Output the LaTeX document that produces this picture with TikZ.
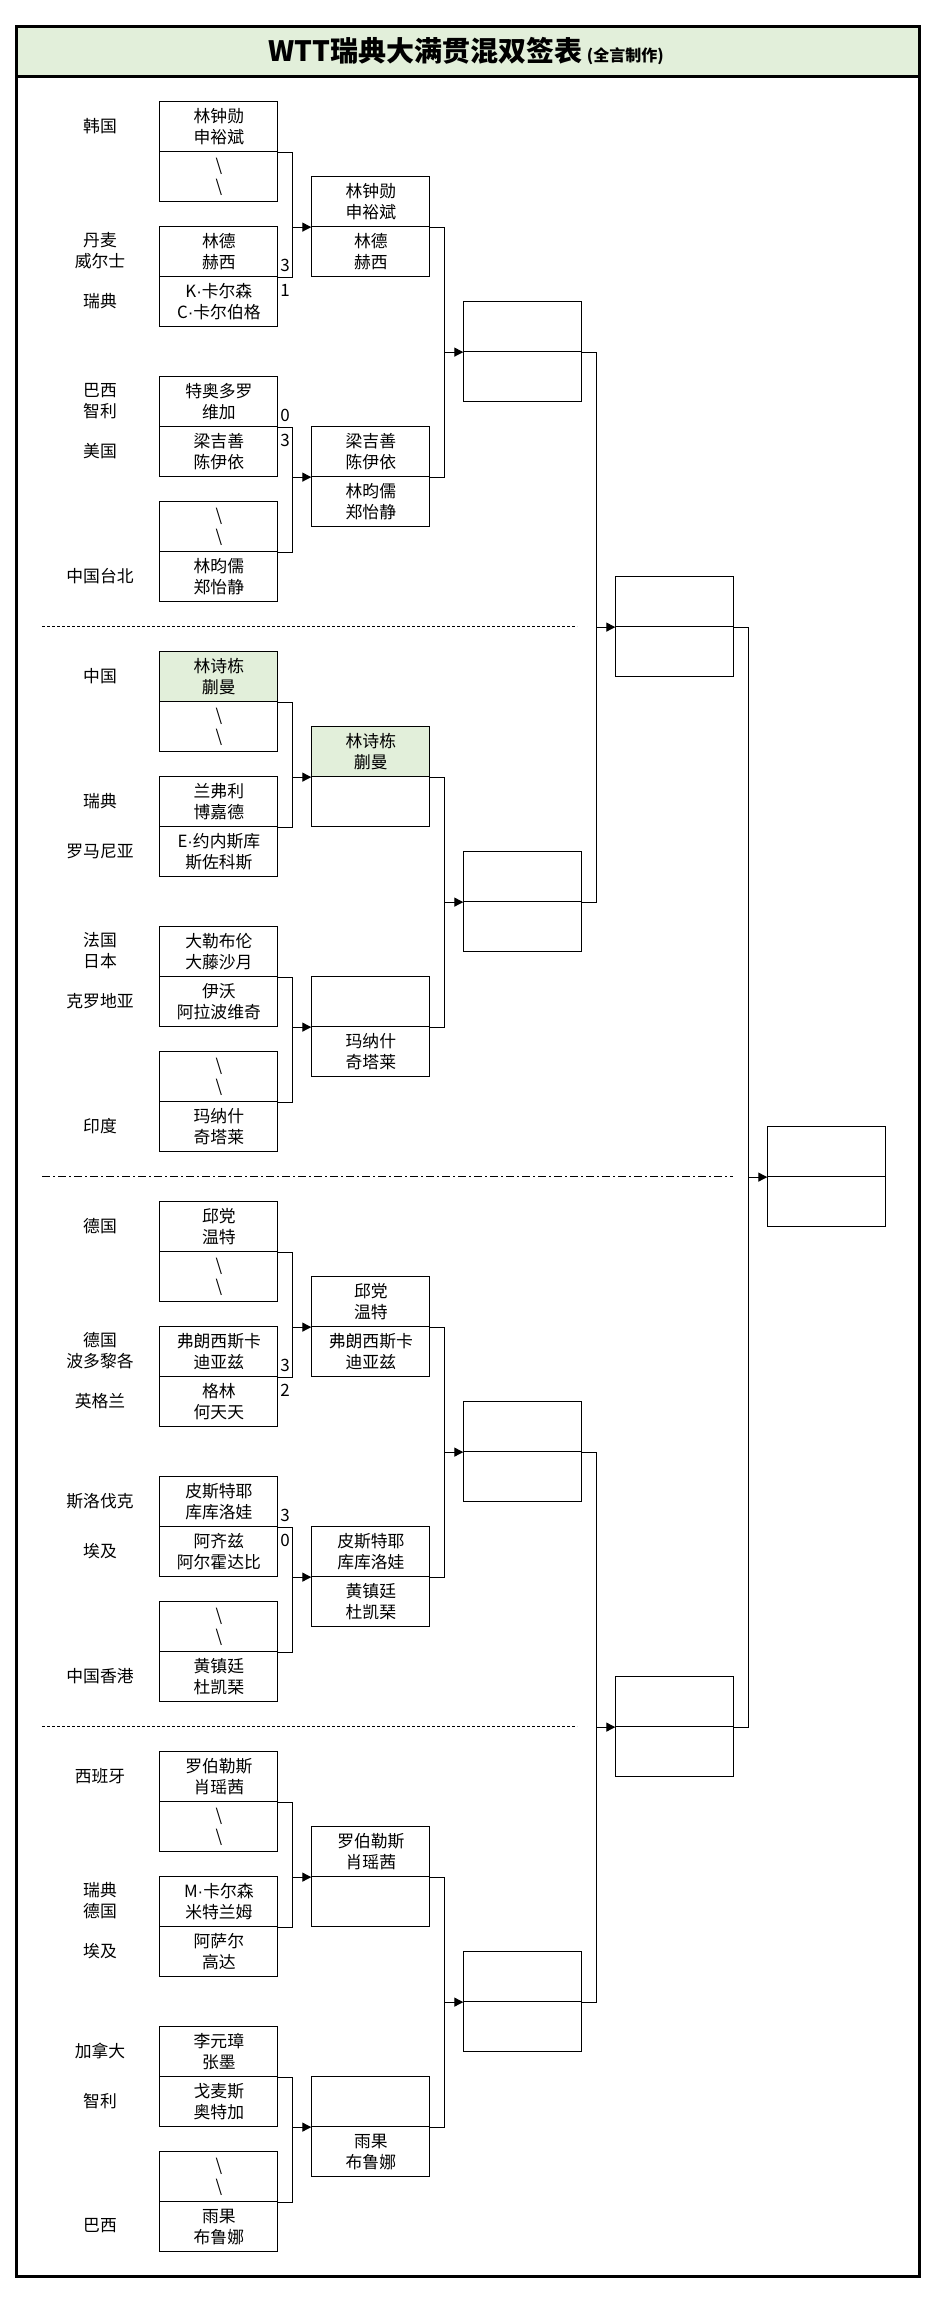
\documentclass[tikz,border=0pt]{standalone}
\usepackage{fontspec}
\setmainfont{Noto Sans CJK SC}
\newfontfamily\dotfont{Liberation Sans}
\usetikzlibrary{arrows.meta}
\definecolor{hdrgreen}{RGB}{226,239,218}
\tikzset{
  cellbox/.style={draw, line width=1.1pt, minimum width=118pt, minimum height=50pt, inner sep=0pt, anchor=north west, align=center, font=\fontsize{16.8}{21}\selectfont},
  win/.style={fill=hdrgreen},
  ctry/.style={align=center, font=\fontsize{16.8}{21}\selectfont, inner sep=0pt},
  score/.style={font=\fontsize{17}{17}\selectfont, inner sep=0pt},
  conn/.style={line width=1.1pt},
  arr/.style={line width=1.1pt, -{Triangle[length=9pt,width=9pt]}},
  sepdash/.style={line width=1pt, dash pattern=on 3pt off 2pt},
  sepdd/.style={line width=1pt, dash pattern=on 8pt off 3pt on 2pt off 3pt},
}
\newcommand\bs{\textbackslash\\\textbackslash}
\newcommand\md{{\dotfont\char"00B7}}
% match in round 1: name, ytop, top text, bottom text, top style
\newcommand\mtch[5]{%
  \node[cellbox,#5] (#1a) at (159.3,#2) {#3};
  \node[cellbox] (#1b) at (159.3,#2+50) {#4};}
% two-cell box at x: name, x, ytop, top text, bottom text, top style
\newcommand\pairbox[6]{%
  \node[cellbox,#6] (#1a) at (#2,#3) {#4};
  \node[cellbox] (#1b) at (#2,#3+50) {#5};}
% bracket: upper, lower, target, joint name
\newcommand\brk[4]{%
  \draw[conn] (#1.south east) -- ++(14,0) coordinate (#4) |- (#2.south east);
  \draw[arr] (#4 |- #3.south west) -- (#3.south west);}
\begin{document}
\begin{tikzpicture}[x=1pt,y=-1pt]
\useasboundingbox (0,0) rectangle (936,2303);
\fill[white] (0,0) rectangle (936,2303);
% header
\fill[hdrgreen] (16,26) rectangle (919,76);
\node[inner sep=0pt] (title) at (466,51) {\fontsize{28}{28}\selectfont\bfseries WTT瑞典大满贯混双签表\,{\fontsize{16}{16}\selectfont (全言制作)}};

% ---------- Quarter 1 ----------
\mtch{q1m1}{101}{林钟勋\\申裕斌}{\bs}{}
\mtch{q1m2}{226}{林德\\赫西}{K\md 卡尔森\\C\md 卡尔伯格}{}
\mtch{q1m3}{376}{特奥多罗\\维加}{梁吉善\\陈伊依}{}
\mtch{q1m4}{501}{\bs}{林昀儒\\郑怡静}{}
\pairbox{q1A}{311.3}{176}{林钟勋\\申裕斌}{林德\\赫西}{}
\pairbox{q1B}{311.3}{426}{梁吉善\\陈伊依}{林昀儒\\郑怡静}{}
\pairbox{q1C}{463.3}{301}{}{}{}
\node[ctry] (c11) at (100,126) {韩国};
\node[ctry] (c12) at (100,251) {丹麦\\威尔士};
\node[ctry] (c13) at (100,301) {瑞典};
\node[ctry] (c14) at (100,401) {巴西\\智利};
\node[ctry] (c15) at (100,451) {美国};
\node[ctry] (c16) at (100,576) {中国台北};
\node[score] (s11) at (285,265) {3};
\node[score] (s12) at (285,290) {1};
\node[score] (s13) at (285,415) {0};
\node[score] (s14) at (285,440) {3};

% ---------- Quarter 2 ----------
\mtch{q2m1}{651}{林诗栋\\蒯曼}{\bs}{win}
\mtch{q2m2}{776}{兰弗利\\博嘉德}{E\md 约内斯库\\斯佐科斯}{}
\mtch{q2m3}{926}{大勒布伦\\大藤沙月}{伊沃\\阿拉波维奇}{}
\mtch{q2m4}{1051}{\bs}{玛纳什\\奇塔莱}{}
\pairbox{q2A}{311.3}{726}{林诗栋\\蒯曼}{}{win}
\pairbox{q2B}{311.3}{976}{}{玛纳什\\奇塔莱}{}
\pairbox{q2C}{463.3}{851}{}{}{}
\node[ctry] (c21) at (100,676) {中国};
\node[ctry] (c22) at (100,801) {瑞典};
\node[ctry] (c23) at (100,851) {罗马尼亚};
\node[ctry] (c24) at (100,951) {法国\\日本};
\node[ctry] (c25) at (100,1001) {克罗地亚};
\node[ctry] (c26) at (100,1126) {印度};

% ---------- Quarter 3 ----------
\mtch{q3m1}{1201}{邱党\\温特}{\bs}{}
\mtch{q3m2}{1326}{弗朗西斯卡\\迪亚兹}{格林\\何天天}{}
\mtch{q3m3}{1476}{皮斯特耶\\库库洛娃}{阿齐兹\\阿尔霍达比}{}
\mtch{q3m4}{1601}{\bs}{黄镇廷\\杜凯琹}{}
\pairbox{q3A}{311.3}{1276}{邱党\\温特}{弗朗西斯卡\\迪亚兹}{}
\pairbox{q3B}{311.3}{1526}{皮斯特耶\\库库洛娃}{黄镇廷\\杜凯琹}{}
\pairbox{q3C}{463.3}{1401}{}{}{}
\node[ctry] (c31) at (100,1226) {德国};
\node[ctry] (c32) at (100,1351) {德国\\波多黎各};
\node[ctry] (c33) at (100,1401) {英格兰};
\node[ctry] (c34) at (100,1501) {斯洛伐克};
\node[ctry] (c35) at (100,1551) {埃及};
\node[ctry] (c36) at (100,1676) {中国香港};
\node[score] (s31) at (285,1365) {3};
\node[score] (s32) at (285,1390) {2};
\node[score] (s33) at (285,1515) {3};
\node[score] (s34) at (285,1540) {0};

% ---------- Quarter 4 ----------
\mtch{q4m1}{1751}{罗伯勒斯\\肖瑶茜}{\bs}{}
\mtch{q4m2}{1876}{M\md 卡尔森\\米特兰姆}{阿萨尔\\高达}{}
\mtch{q4m3}{2026}{李元璋\\张墨}{戈麦斯\\奥特加}{}
\mtch{q4m4}{2151}{\bs}{雨果\\布鲁娜}{}
\pairbox{q4A}{311.3}{1826}{罗伯勒斯\\肖瑶茜}{}{}
\pairbox{q4B}{311.3}{2076}{}{雨果\\布鲁娜}{}
\pairbox{q4C}{463.3}{1951}{}{}{}
\node[ctry] (c41) at (100,1776) {西班牙};
\node[ctry] (c42) at (100,1901) {瑞典\\德国};
\node[ctry] (c43) at (100,1951) {埃及};
\node[ctry] (c44) at (100,2051) {加拿大};
\node[ctry] (c45) at (100,2101) {智利};
\node[ctry] (c46) at (100,2226) {巴西};

% ---------- Semis and final ----------
\pairbox{sf1}{615.3}{576}{}{}{}
\pairbox{sf2}{615.3}{1676}{}{}{}
\pairbox{fin}{767.3}{1126}{}{}{}

% ---------- Brackets ----------
\brk{q1m1a}{q1m2a}{q1Aa}{j11}
\brk{q1m3a}{q1m4a}{q1Ba}{j12}
\brk{q1Aa}{q1Ba}{q1Ca}{j13}
\brk{q2m1a}{q2m2a}{q2Aa}{j21}
\brk{q2m3a}{q2m4a}{q2Ba}{j22}
\brk{q2Aa}{q2Ba}{q2Ca}{j23}
\brk{q3m1a}{q3m2a}{q3Aa}{j31}
\brk{q3m3a}{q3m4a}{q3Ba}{j32}
\brk{q3Aa}{q3Ba}{q3Ca}{j33}
\brk{q4m1a}{q4m2a}{q4Aa}{j41}
\brk{q4m3a}{q4m4a}{q4Ba}{j42}
\brk{q4Aa}{q4Ba}{q4Ca}{j43}
\brk{q1Ca}{q2Ca}{sf1a}{j51}
\brk{q3Ca}{q4Ca}{sf2a}{j52}
\brk{sf1a}{sf2a}{fina}{j61}

% ---------- Separators ----------
\draw[sepdash] (42,626) -- (577,626);
\draw[sepdd] (42,1176) -- (733,1176);
\draw[sepdash] (42,1726) -- (577,1726);

% ---------- Frame ----------
\draw[line width=3pt] (16,76) -- (919,76);
\draw[line width=3pt] (16,26) rectangle (919,2276);
\end{tikzpicture}
\end{document}
